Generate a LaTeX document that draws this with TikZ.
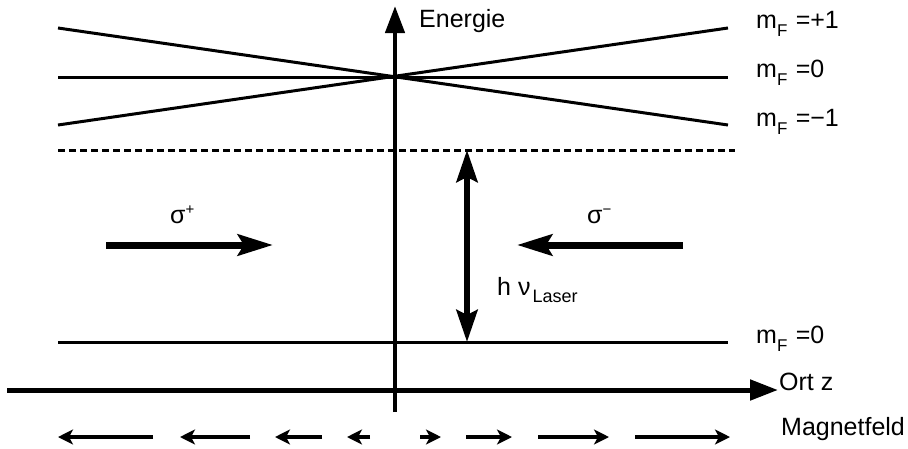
\documentclass[tikz,border=0pt]{standalone}
\usepackage{fontspec}
\setmainfont{Liberation Sans}
\usetikzlibrary{arrows.meta}
\newcommand{\mflabel}[1]{m\raisebox{-8pt}{\fontsize{17}{17}\selectfont F}\,\,=#1}
\begin{document}
\begin{tikzpicture}[x=1pt,y=-1pt,
  lbl/.style={anchor=base west,inner sep=0pt,font=\fontsize{25}{29}\selectfont},
  level/.style={line width=3pt},
  thickarrow/.style={line width=7pt,-{Stealth[length=35pt,width=21pt,inset=6pt]}},
  fieldarrow/.style={line width=3.5pt,-{Stealth[length=15pt,width=15pt,inset=4pt]}},
  axisarrow/.style={line width=4.5pt,-{Triangle[length=27pt,width=19pt]}}]
\useasboundingbox (0,0) rectangle (908,448);
% coordinates
\coordinate (c) at (395,77);
\coordinate (pL) at (58,28);  \coordinate (pR) at (728,125);
\coordinate (mL) at (58,125); \coordinate (mR) at (728,28);
\coordinate (zL) at (58,77);  \coordinate (zR) at (728,77);
\coordinate (dL) at (58,150); \coordinate (dR) at (735,150);
\coordinate (gL) at (58,342); \coordinate (gR) at (728,342);
\coordinate (vB) at (395,412); \coordinate (vT) at (395,6);
\coordinate (hL) at (7,390);   \coordinate (hR) at (778,390);
\coordinate (nuT) at (467,150); \coordinate (nuB) at (467,342);
\coordinate (spA) at (106,245); \coordinate (spB) at (273,245);
\coordinate (smA) at (683,245); \coordinate (smB) at (517,245);
% upper levels
\draw[level] (pL) -- (pR);
\draw[level] (mL) -- (mR);
\draw[level] (zL) -- (zR);
% virtual level
\draw[line width=3pt,dash pattern=on 7pt off 4pt] (dL) -- (dR);
% ground level
\draw[level] (gL) -- (gR);
% axes
\draw[axisarrow] (vB) -- (vT);
\draw[line width=5pt,-{Triangle[length=28pt,width=20pt]}] (hL) -- (hR);
% photon energy
\draw[line width=6pt,{Stealth[length=32pt,width=21pt,inset=5pt]}-{Stealth[length=32pt,width=21pt,inset=5pt]}] (nuT) -- (nuB);
% laser beams
\draw[thickarrow] (spA) -- (spB);
\draw[thickarrow] (smA) -- (smB);
% magnetic field arrows
\foreach \t/\h [count=\i] in {153/58,250/180,322/275,370/347,420/441,466/512,538/609,635/730}{
  \coordinate (bt\i) at (\t,437); \coordinate (bh\i) at (\h,437);
  \draw[fieldarrow] (bt\i) -- (bh\i);
}
% labels
\node[lbl] (energie) at (419,27) {Energie};
\node[lbl] (lp) at (756,28) {\mflabel{+1}};
\node[lbl] (l0) at (756,77) {\mflabel{0}};
\node[lbl] (lm) at (756,126) {\mflabel{−1}};
\node[lbl] (lg) at (756,343) {\mflabel{0}};
\node[lbl] (ort) at (779,390) {Ort z};
\node[lbl] (mag) at (781,435) {Magnetfeld};
\node[lbl] (sp) at (170,223) {σ\raisebox{9pt}{\fontsize{15}{15}\selectfont +}};
\node[lbl] (sm) at (587,223) {σ\raisebox{9pt}{\fontsize{15}{15}\selectfont −}};
\node[lbl] (hnu) at (497,295) {h ν\kern2pt\raisebox{-7pt}{\fontsize{18}{18}\selectfont Laser}};
\end{tikzpicture}
\end{document}
